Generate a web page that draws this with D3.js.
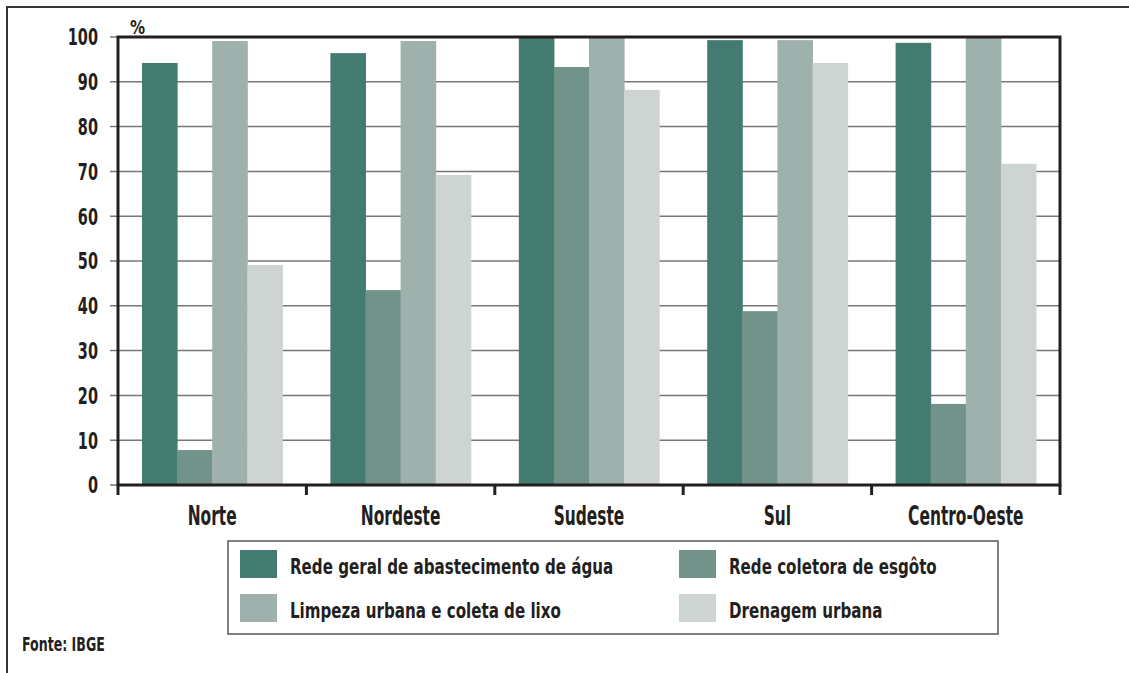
<!DOCTYPE html>
<html>
<head>
<meta charset="utf-8">
<script src="https://cdn.jsdelivr.net/npm/d3@7"></script>
<style>
  body { margin: 0; background: #fff; }
  svg { display: block; }
  text { font-family: "DejaVu Sans Condensed", "DejaVu Sans", sans-serif; font-stretch: condensed; font-weight: bold; fill: #231f20; }
</style>
</head>
<body>
<svg id="chart" width="1129" height="673"></svg>
<script>
/* ── Data ─────────────────────────────────────────────── */
const regions = ['Norte', 'Nordeste', 'Sudeste', 'Sul', 'Centro-Oeste'];
const seriesNames = [
  'Rede geral de abastecimento de água',
  'Rede coletora de esgôto',
  'Limpeza urbana e coleta de lixo',
  'Drenagem urbana'
];
const agua     = [94.2, 96.4, 100, 99.3, 98.7];
const esgoto   = [7.8, 43.5, 93.3, 38.8, 18.1];
const lixo     = [99.1, 99.1, 100, 99.3, 100];
const drenagem = [49.1, 69.2, 88.2, 94.2, 71.7];
const yTicks = [0, 10, 20, 30, 40, 50, 60, 70, 80, 90, 100];
const colors = ['#447b71', '#72938a', '#9eb1ac', '#cdd4d2'];

const series = [agua, esgoto, lixo, drenagem];
const rows = regions.map((r, i) => ({ region: r, values: series.map(s => s[i]) }));

/* ── Layout ───────────────────────────────────────────── */
const svg = d3.select('#chart');
const plot = { left: 118, right: 1060, top: 37, bottom: 485 };

// outer frame (only top and left edges fall inside the picture)
svg.append('path')
  .attr('d', 'M7,673 V7 H1129')
  .attr('fill', 'none').attr('stroke', '#333').attr('stroke-width', 2);

const x = d3.scaleBand().domain(regions).range([plot.left, plot.right]).paddingInner(0).paddingOuter(0);
const xs = d3.scaleBand().domain(d3.range(4)).range([0, x.bandwidth() - 48]);
const y = d3.scaleLinear().domain([0, 100]).range([plot.bottom, plot.top]);

/* ── Grid ─────────────────────────────────────────────── */
svg.append('g')
  .selectAll('line')
  .data(yTicks)
  .join('line')
  .attr('x1', plot.left - 8).attr('x2', plot.right)
  .attr('y1', d => y(d)).attr('y2', d => y(d))
  .attr('stroke', '#777').attr('stroke-width', 1.5);

/* ── Bars ─────────────────────────────────────────────── */
const groups = svg.append('g')
  .selectAll('g')
  .data(rows)
  .join('g')
  .attr('transform', d => `translate(${x(d.region) + 24},0)`);

groups.selectAll('rect')
  .data(d => d.values)
  .join('rect')
  .attr('x', (d, i) => xs(i))
  .attr('width', xs.bandwidth() + 0.5)
  .attr('y', d => y(d))
  .attr('height', d => y(0) - y(d))
  .attr('fill', (d, i) => colors[i]);

/* ── Plot frame ───────────────────────────────────────── */
svg.append('rect')
  .attr('x', plot.left).attr('y', plot.top)
  .attr('width', plot.right - plot.left).attr('height', plot.bottom - plot.top)
  .attr('fill', 'none').attr('stroke', '#231f20').attr('stroke-width', 3);

// category separators below baseline
svg.append('g')
  .selectAll('line')
  .data(d3.range(regions.length + 1))
  .join('line')
  .attr('x1', i => plot.left + i * x.bandwidth())
  .attr('x2', i => plot.left + i * x.bandwidth())
  .attr('y1', plot.bottom).attr('y2', plot.bottom + 10)
  .attr('stroke', '#231f20').attr('stroke-width', 3);

/* ── Text helper: squeeze into a narrow face ──────────── */
function narrow(sel, k) {
  sel.each(function () {
    const t = d3.select(this);
    const tx = +t.attr('x'), ty = +t.attr('y');
    t.attr('transform', `translate(${tx},${ty}) scale(${k},1) translate(${-tx},${-ty})`);
  });
}

/* ── Axis labels ──────────────────────────────────────── */
svg.append('g')
  .selectAll('text')
  .data(yTicks)
  .join('text')
  .attr('x', 98).attr('y', d => y(d) + 8.5)
  .attr('text-anchor', 'end')
  .attr('font-size', 23)
  .text(d => d)
  .call(narrow, 0.7);

svg.append('text')
  .attr('x', 130).attr('y', 34)
  .attr('font-size', 19).attr('font-weight', 'normal')
  .text('%')
  .call(narrow, 0.88);

svg.append('g')
  .selectAll('text')
  .data(regions)
  .join('text')
  .attr('x', d => x(d) + x.bandwidth() / 2)
  .attr('y', 525)
  .attr('text-anchor', 'middle')
  .attr('font-size', 26)
  .text(d => d)
  .call(narrow, 0.66);

/* ── Legend ───────────────────────────────────────────── */
svg.append('rect')
  .attr('x', 228).attr('y', 541).attr('width', 770).attr('height', 93)
  .attr('fill', 'none').attr('stroke', '#555').attr('stroke-width', 1.5);

const legendPos = [[240, 550], [679, 550], [240, 594], [679, 594]];
const legend = svg.append('g')
  .selectAll('g')
  .data(seriesNames)
  .join('g')
  .attr('transform', (d, i) => `translate(${legendPos[i][0]},${legendPos[i][1]})`);

legend.append('rect')
  .attr('width', 37).attr('height', 28)
  .attr('fill', (d, i) => colors[i]);

legend.append('text')
  .attr('x', 50).attr('y', 24)
  .attr('font-size', 21)
  .text(d => d)
  .call(narrow, 0.8);

svg.append('text')
  .attr('x', 22).attr('y', 651)
  .attr('font-size', 20)
  .text('Fonte: IBGE')
  .call(narrow, 0.7);
</script>
</body>
</html>
